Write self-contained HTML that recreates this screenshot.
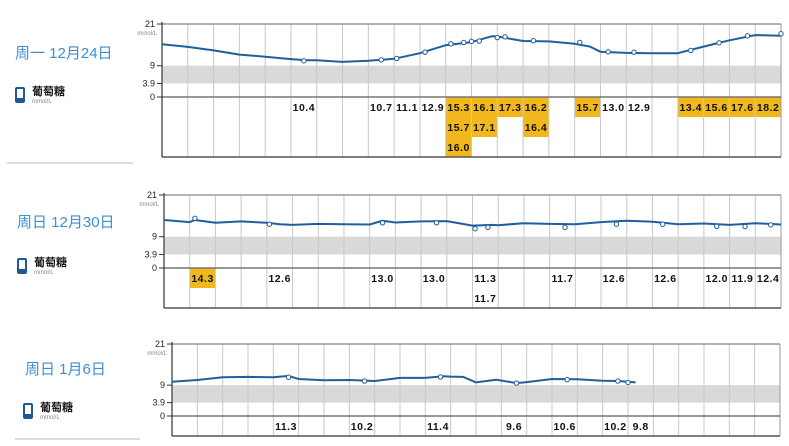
<!DOCTYPE html>
<html><head><meta charset="utf-8">
<style>
body{margin:0;background:#fff;width:789px;height:446px;overflow:hidden;font-family:"Liberation Sans","Noto Sans CJK SC",sans-serif;}
svg{display:block}
</style></head>
<body>
<svg id="chart" width="789" height="446" xmlns="http://www.w3.org/2000/svg"></svg>
<script>
// Panel 1 — 周一 12月24日
const p1LineHours=[0,1,2,3,4,5,5.6,6,7,8,9,10,11,12,12.8,13,14,15,16,16.6,17,18,19,20,21,22,23,24];
const p1LineValues=[15.2,14.4,13.4,12.2,11.6,10.9,10.6,10.6,10.1,10.4,11.0,12.6,14.9,15.8,17.5,17.4,16.1,16.0,15.3,14.5,13.0,12.7,12.6,12.6,14.5,16.3,17.8,17.6];
const p1ReadHours=[5.5,8.5,9.1,10.2,11.2,11.7,12.0,12.3,13.0,13.3,14.4,16.2,17.3,18.3,20.5,21.6,22.7,24.0];
const p1ReadValues=[10.4,10.7,11.1,12.9,15.3,15.7,16.0,16.1,17.1,17.3,16.2,15.7,13.0,12.9,13.4,15.6,17.6,18.2];
const p1CellCols=[5,8,9,10,11,12,13,14,16,17,18,20,21,22,23,11,12,14,11];
const p1CellRows=[0,0,0,0,0,0,0,0,0,0,0,0,0,0,0,1,1,1,2];
const p1CellValues=[10.4,10.7,11.1,12.9,15.3,16.1,17.3,16.2,15.7,13.0,12.9,13.4,15.6,17.6,18.2,15.7,17.1,16.4,16.0];
// Panel 2 — 周日 12月30日
const p2LineHours=[0,1,1.2,2,3,4,4.5,5,6,7,8,8.5,9,10,11,12,12.8,13,14,15,16,17,18,19,20,21,22,23,24];
const p2LineValues=[13.8,13.2,13.8,13.0,13.4,13.0,12.6,12.4,12.7,12.6,12.5,13.6,13.1,13.4,13.5,12.2,12.4,12.3,12.9,12.7,12.6,13.2,13.6,13.3,12.6,12.8,12.4,12.9,12.5];
const p2ReadHours=[1.2,4.1,8.5,10.6,12.1,12.6,15.6,17.6,19.4,21.5,22.6,23.6];
const p2ReadValues=[14.3,12.6,13.0,13.0,11.3,11.7,11.7,12.6,12.6,12.0,11.9,12.4];
const p2CellCols=[1,4,8,10,12,15,17,19,21,22,23,12];
const p2CellRows=[0,0,0,0,0,0,0,0,0,0,0,1];
const p2CellValues=[14.3,12.6,13.0,13.0,11.3,11.7,12.6,12.6,12.0,11.9,12.4,11.7];
// Panel 3 — 周日 1月6日
const p3LineHours=[0,1,2,3,4,4.6,5,6,7,8,9,10,10.7,11,11.5,12,12.8,13.6,14,15,16,17,17.6,18.3];
const p3LineValues=[10.0,10.5,11.3,11.4,11.3,11.7,10.8,10.4,10.5,10.2,11.1,11.1,11.6,11.5,11.4,9.8,10.6,9.6,9.9,10.8,10.7,10.3,10.2,9.8];
const p3ReadHours=[4.6,7.6,10.6,13.6,15.6,17.6,18.0];
const p3ReadValues=[11.3,10.2,11.4,9.6,10.6,10.2,9.8];
const p3CellCols=[4,7,10,13,15,17,18];
const p3CellRows=[0,0,0,0,0,0,0];
const p3CellValues=[11.3,10.2,11.4,9.6,10.6,10.2,9.8];
const yTicks=[21,9,3.9,0];
const yTickLabels=["21","9","3.9","0"];
const titles=["周一  12月24日","周日  12月30日","周日  1月6日"];

const NS="http://www.w3.org/2000/svg";
const svg=document.getElementById('chart');
function mk(tag,attrs,parent){const e=document.createElementNS(NS,tag);for(const k in attrs)e.setAttribute(k,attrs[k]);(parent||svg).appendChild(e);return e;}

const panels=[
 {L:162,R:781,T:24,Z:97,B:157,rows:3,tx:15,ty:58,ix:15,iy:87,sep:[7,133,163],line:[p1LineHours,p1LineValues],read:[p1ReadHours,p1ReadValues],cells:[p1CellCols,p1CellRows,p1CellValues]},
 {L:164,R:781,T:195,Z:268,B:308,rows:2,tx:17,ty:227,ix:17,iy:258,sep:null,line:[p2LineHours,p2LineValues],read:[p2ReadHours,p2ReadValues],cells:[p2CellCols,p2CellRows,p2CellValues]},
 {L:172,R:780,T:344,Z:416,B:436,rows:1,tx:25,ty:374,ix:23,iy:403,sep:[15,140,439],line:[p3LineHours,p3LineValues],read:[p3ReadHours,p3ReadValues],cells:[p3CellCols,p3CellRows,p3CellValues]}
];

panels.forEach((p,i)=>{
 const g=mk('g',{});
 
 
 const cw=(p.R-p.L)/24;
 const rh=(p.B-p.Z)/p.rows;
 const x=h=>p.L+h*cw;
 const y=v=>p.Z-v*(p.Z-p.T)/21;
 // title
 const t=mk('text',{x:p.tx,y:p.ty,'font-size':15,fill:'#3b8fd3'},g);t.textContent=titles[i];
 
 
 // icon
 const ic=mk('g',{},g);
 
 
 mk('rect',{x:p.ix,y:p.iy,width:10,height:16,rx:2,fill:'#1c5a9a'},ic);
 mk('rect',{x:p.ix+2,y:p.iy+2,width:6,height:9,fill:'#fff'},ic);
 const lt=mk('text',{x:p.ix+17,y:p.iy+8,'font-size':11,'font-weight':'bold',fill:'#111'},g);lt.textContent='葡萄糖';
 
 
 const lu=mk('text',{x:p.ix+17,y:p.iy+16,'font-size':6,fill:'#888'},g);lu.textContent='mmol/L';
 
 
 if(p.sep){const s=mk('line',{x1:p.sep[0],x2:p.sep[1],y1:p.sep[2],y2:p.sep[2],stroke:'#bbb','stroke-width':1},g);
  
  }
 // target band
 const band=mk('rect',{x:p.L,y:y(9),width:p.R-p.L,height:y(3.9)-y(9),fill:'#d9d9d9'},g);
 
 
 // cells
 p.cells[0].forEach((c,k)=>{
  const r=p.cells[1][k],v=p.cells[2][k];
  if(v>13.3){const b=mk('rect',{x:x(c),y:p.Z+r*rh,width:cw,height:rh,fill:'#f0b81c'},g);
   
   }
 });
 // vertical grid
 for(let h=1;h<24;h++){const gl=mk('line',{x1:x(h),x2:x(h),y1:p.T,y2:p.B,stroke:'#c8c8c8','stroke-width':1},g);
  
  }
 mk('line',{x1:p.L,x2:p.R,y1:p.T,y2:p.T,stroke:'#999','stroke-width':1.5},g);
 mk('line',{x1:p.R,x2:p.R,y1:p.T,y2:p.B,stroke:'#999','stroke-width':1},g);
 mk('line',{x1:p.L,x2:p.R,y1:p.Z,y2:p.Z,stroke:'#777','stroke-width':1.5},g);
 mk('line',{x1:p.L,x2:p.R,y1:p.B,y2:p.B,stroke:'#555','stroke-width':1.5},g);
 const ax=mk('line',{x1:p.L,x2:p.L,y1:p.T-2,y2:p.B,stroke:'#333','stroke-width':1.2},g);
 
 
 yTicks.forEach((v,k)=>{
  mk('line',{x1:p.L-5,x2:p.L,y1:y(v),y2:y(v),stroke:'#333','stroke-width':1},g);
  const tl=mk('text',{x:p.L-7,y:y(v)+3,'font-size':9,'text-anchor':'end',fill:'#222'},g);tl.textContent=yTickLabels[k];
  
  
 });
 const un=mk('text',{x:p.L-5,y:p.T+11,'font-size':6,'text-anchor':'end',fill:'#888'},g);un.textContent='mmol/L';
 
 
 // cell text
 p.cells[0].forEach((c,k)=>{
  const r=p.cells[1][k],v=p.cells[2][k];
  const ct=mk('text',{x:x(c)+cw/2,y:p.Z+r*rh+rh/2+4,'font-size':10.5,'font-weight':'bold','text-anchor':'middle',fill:'#111','letter-spacing':'0.5'},g);
  ct.textContent=v.toFixed(1);
  
  
 });
 // line
 const d=p.line[0].map((h,k)=>(k?'L':'M')+x(h).toFixed(1)+','+y(p.line[1][k]).toFixed(1)).join(' ');
 const path=mk('path',{d:d,fill:'none',stroke:'#1f5f9e','stroke-width':2,'stroke-linejoin':'round'},g);
 
 
 p.read[0].forEach((h,k)=>{
  const c=mk('circle',{cx:x(h),cy:y(p.read[1][k]),r:2.2,fill:'#fff',stroke:'#1f5f9e','stroke-width':1},g);
  
  
 });
});
</script>
</body></html>
